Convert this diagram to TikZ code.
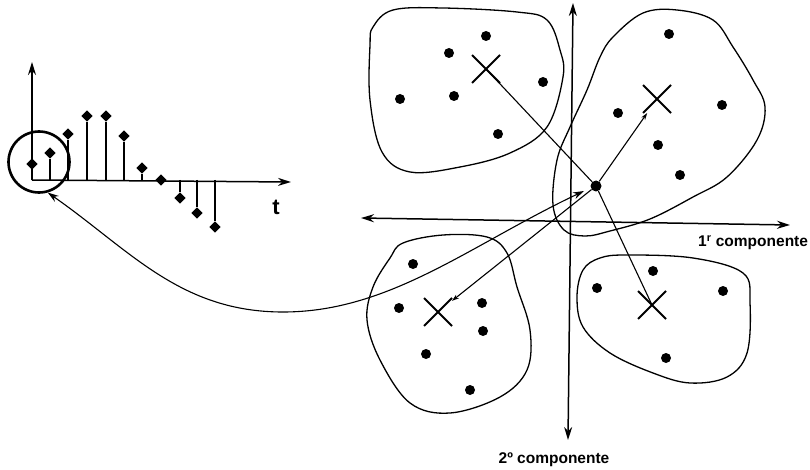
\documentclass[tikz,border=0pt]{standalone}
\usepackage{fontspec}
\setmainfont{Liberation Sans}
\usetikzlibrary{shapes.geometric,shapes.misc,arrows.meta}
\begin{document}
\begin{tikzpicture}[x=1pt,y=-1pt,
  ax/.style={line width=1.5pt,-{Stealth[length=13pt,width=8pt]}},
  bax/.style={line width=1.5pt,{Stealth[length=13pt,width=8pt]}-{Stealth[length=13pt,width=8pt]}},
  sample/.style={diamond,fill=black,inner sep=0pt,minimum size=11.5pt},
  stem/.style={line width=1.2pt},
  pt/.style={circle,fill=black,inner sep=0pt,minimum size=10pt},
  cx/.style={cross out,draw,line width=2pt,inner sep=0pt,minimum size=26pt},
  blob/.style={line width=1.3pt,smooth cycle,tension=0.6},
  link/.style={line width=1.1pt},
  tip/.style={-{Stealth[length=7pt,width=4.5pt]}},
  lab/.style={font=\fontsize{15.5}{18}\selectfont\bfseries,inner sep=0pt}
]
\useasboundingbox (0,0) rectangle (810,470);

% ---------- left signal plot ----------
\coordinate (o) at (32,180);
\coordinate (ytop) at (32,62);
\coordinate (xend) at (291,182);
\draw[ax] (o) -- (ytop);
\draw[ax] (o) -- (xend);
\node[lab,font=\fontsize{22}{24}\selectfont\bfseries] (tlab) at (276,207) {t};

\foreach \n/\x/\y in {s1/32/164,s2/50/153,s3/68/134,s4/87/116,s5/106/116,s6/124/136,s7/142/168,s8/161/180,s9/180/198,s10/197/213,s11/215/227}{
  \node[sample] (\n) at (\x,\y) {};
  \coordinate (\n b) at (\x,180);
  \draw[stem] (\n b) -- (\n);
}

\node[circle,draw,line width=2.6pt,minimum size=61pt,inner sep=0pt] (zc) at (39,162) {};
\coordinate (ctip) at (zc.-74);

% ---------- right cluster plot ----------
\coordinate (h1) at (361,218);
\coordinate (h2) at (790,225);
\coordinate (v1) at (573,3);
\coordinate (v2) at (568,440);
\draw[bax] (h1) -- (h2);
\draw[bax] (v1) -- (v2);

\node[lab,anchor=west] (l1) at (698,243) {1\textsuperscript{r} componente};
\node[lab] (l2) at (554,460) {2º componente};

% clusters
\draw[blob] plot coordinates {(373,27) (393,10) (443,8) (517,12) (547,20) (560,50) (563,77) (547,127) (510,153) (460,167) (410,172) (382,152) (370,100) (370,45)};
\draw[blob] plot coordinates {(613,37) (643,13) (677,10) (713,20) (733,47) (753,80) (765,107) (757,140) (727,177) (693,197) (650,219) (610,231) (585,236) (564,230) (553,205) (557,160) (570,127) (587,90) (600,57)};
\draw[blob] plot coordinates {(390,258) (403,243) (443,235) (487,237) (507,253) (517,287) (530,330) (527,370) (500,397) (450,413) (410,403) (380,360) (367,320) (373,287)};
\draw[blob] plot coordinates {(583,270) (600,258) (627,255) (693,258) (743,273) (750,303) (747,353) (727,377) (690,383) (653,373) (610,353) (583,327) (577,297)};

% points
\foreach \n/\x/\y in {a1/486/36,a2/449/53,a3/543/82,a4/400/99,a5/454/96,a6/498/134,
  b1/669/34,b2/618/113,b3/722/105,b4/658/145,b5/680/175,
  c1/413/264,c2/399/308,c3/482/303,c4/483/331,c5/426/354,c6/470/390,
  d1/653/271,d2/597/288,d3/723/291,d4/666/358}{
  \node[pt] (\n) at (\x,\y) {};
}

% centroids
\node[cx] (x1) at (486,69) {};
\node[cx] (x2) at (657,99) {};
\node[cx] (x3) at (438,312) {};
\node[cx] (x4) at (652,305) {};

% projected point
\node[pt,minimum size=11pt] (m) at (596,186) {};

\draw[link] (x1.center) -- (m);
\draw[link] (m) -- (x4.center);
\draw[link,tip] (m) -- (x2);
\draw[link,tip] (m) -- (x3);

% curve from sample to projected point
\coordinate (cbot) at (283,312);
\coordinate (mtip) at (584,191);
\draw[link,{Stealth[length=11pt,width=7pt]}-{Stealth[length=11pt,width=7pt]}]
  (ctip) .. controls (130,250) and (180,312) .. (cbot)
         .. controls (390,312) and (470,245) .. (mtip);
\end{tikzpicture}
\end{document}
